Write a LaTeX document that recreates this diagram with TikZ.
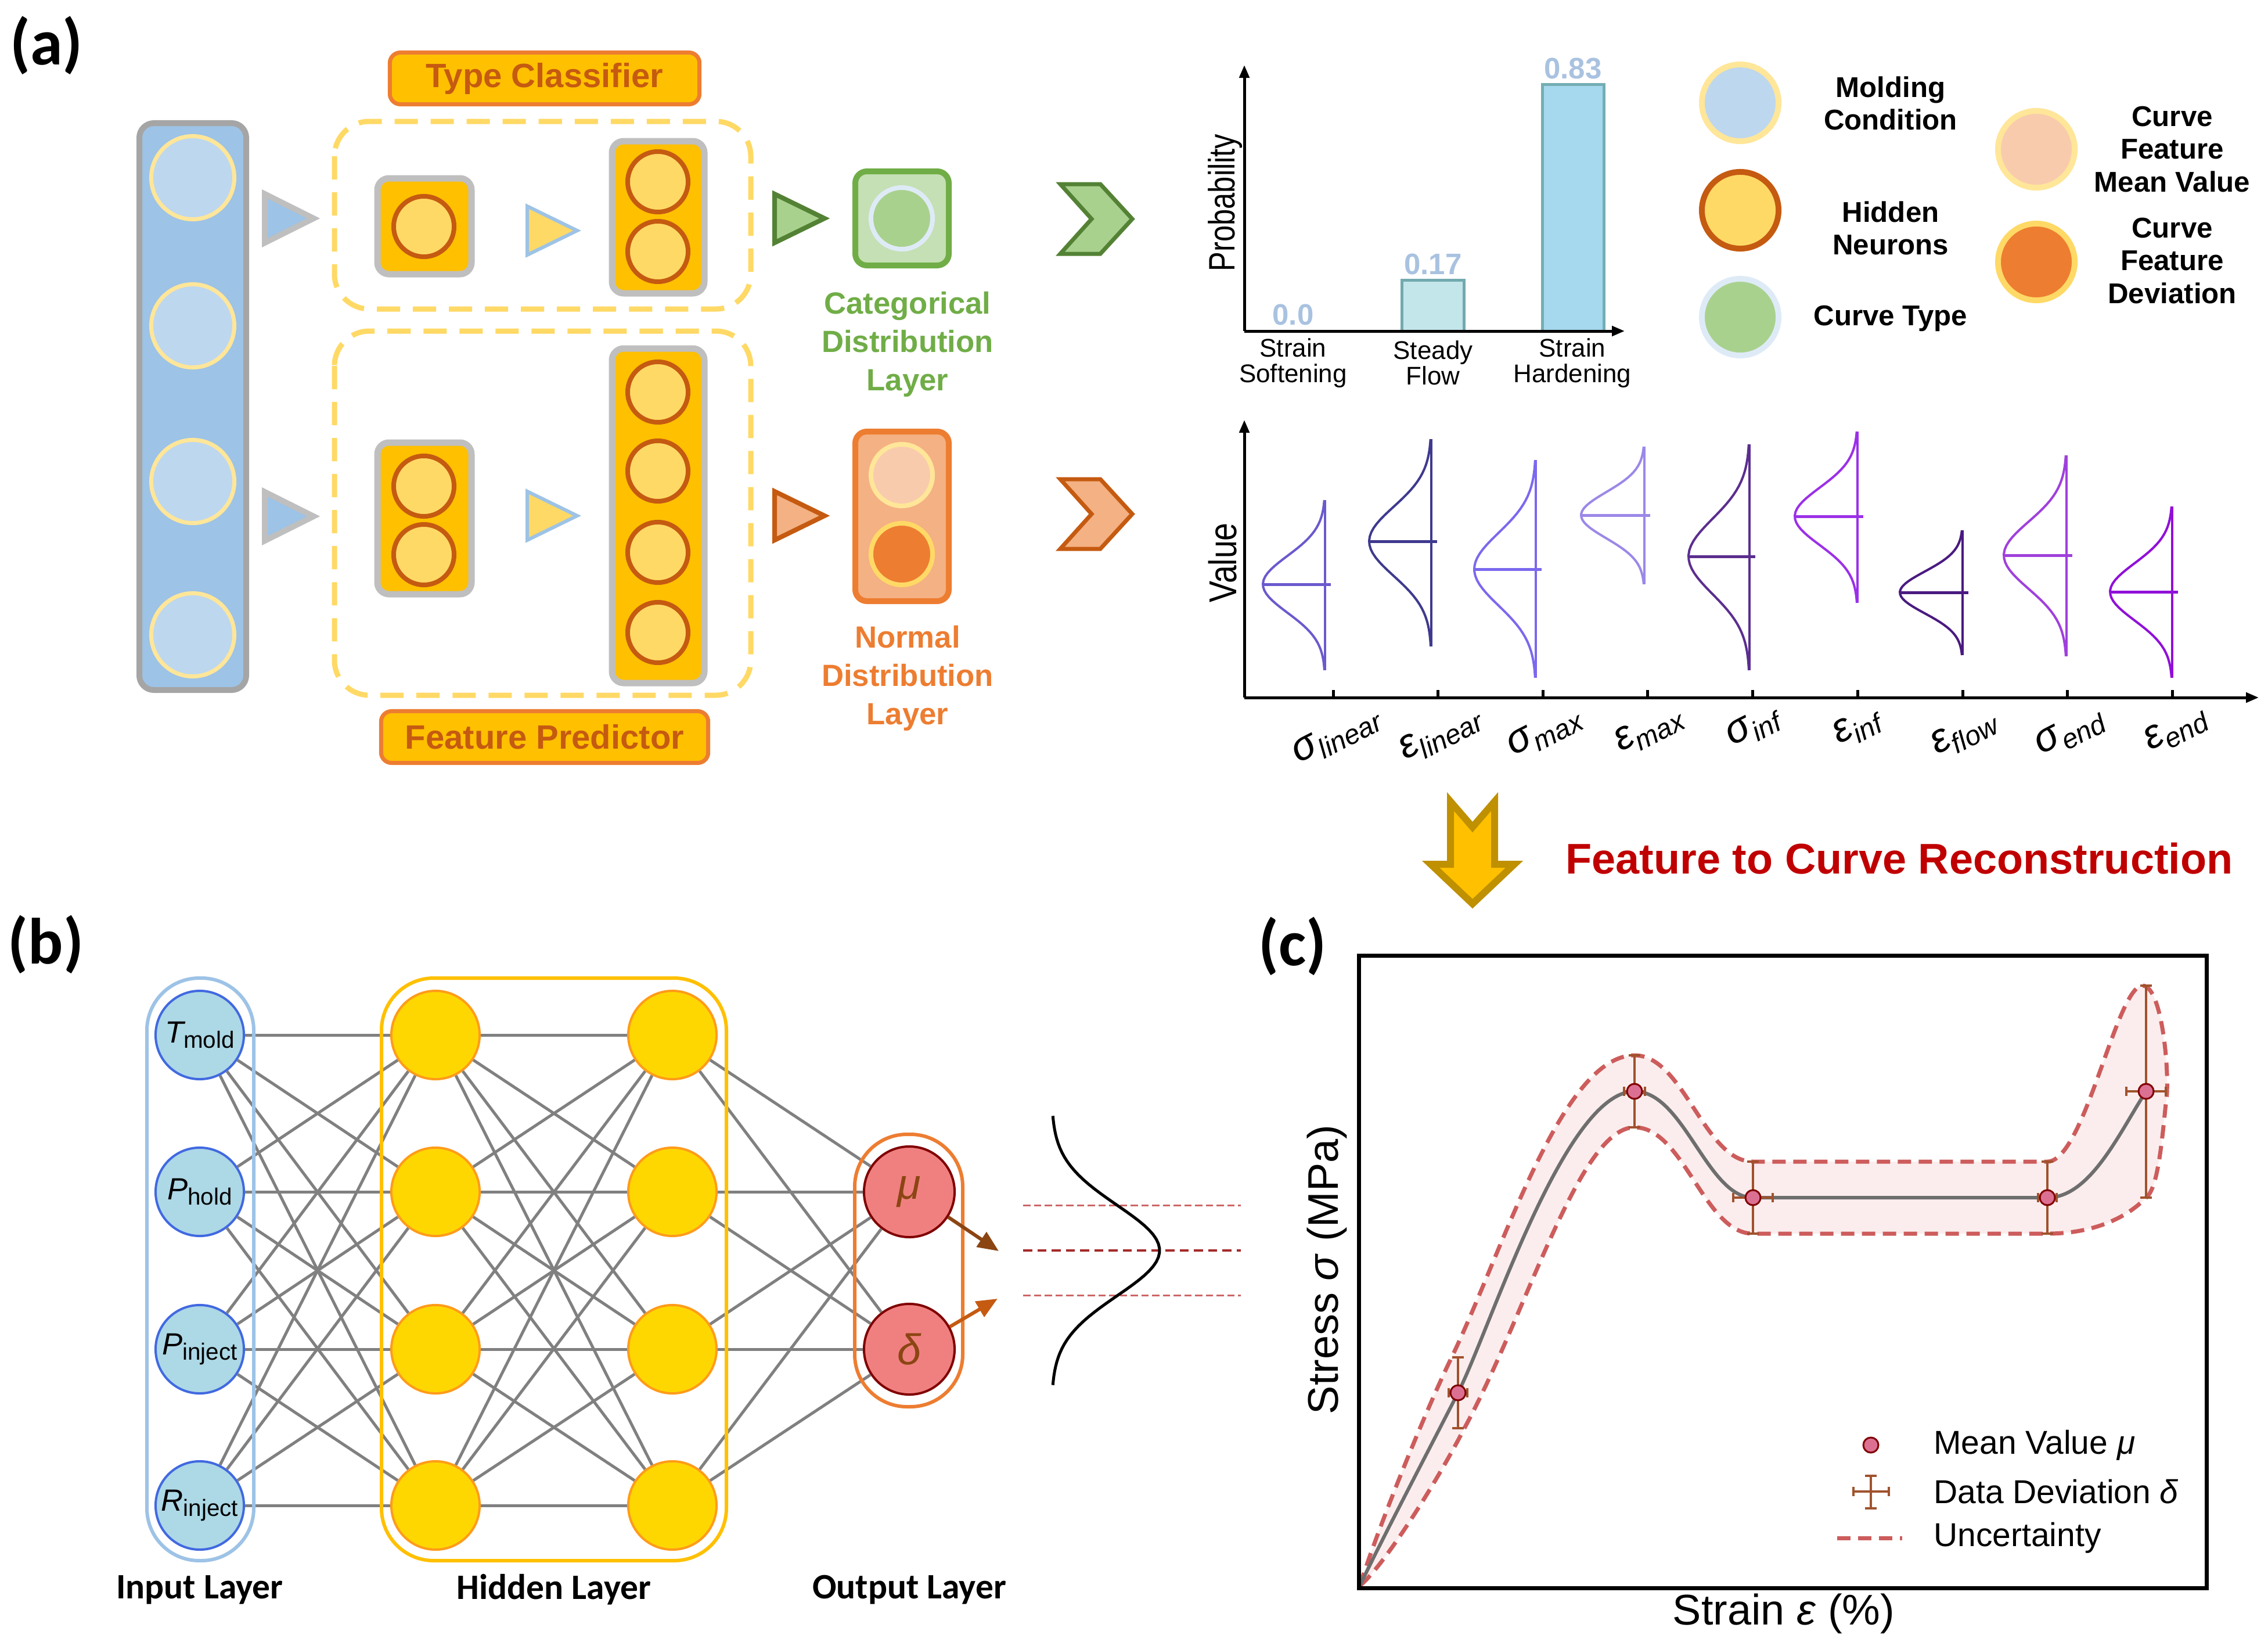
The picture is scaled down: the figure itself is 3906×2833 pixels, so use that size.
\documentclass[tikz,border=0pt]{standalone}
\usepackage{fontspec}
\setmainfont{Liberation Sans}
\newfontfamily\calibri{Carlito}
\usetikzlibrary{arrows.meta}

\definecolor{colblue}{HTML}{9DC3E6}
\definecolor{cirblue}{HTML}{BDD7EE}
\definecolor{paleyel}{HTML}{FFE699}
\definecolor{colgray}{HTML}{A5A5A5}
\definecolor{trigray}{HTML}{BFBFBF}
\definecolor{gold}{HTML}{FFC000}
\definecolor{neuyel}{HTML}{FFD966}
\definecolor{rust}{HTML}{C55A11}
\definecolor{orng}{HTML}{ED7D31}
\definecolor{grnbox}{HTML}{C5E0B4}
\definecolor{grncir}{HTML}{A9D18E}
\definecolor{grnline}{HTML}{70AD47}
\definecolor{grndark}{HTML}{548235}
\definecolor{peach}{HTML}{F4B183}
\definecolor{peachlt}{HTML}{F8CBAD}
\definecolor{iceblue}{HTML}{DEEBF7}
\definecolor{barval}{HTML}{A9C2E0}
\definecolor{barA}{HTML}{C3E6EB}
\definecolor{barAline}{HTML}{72AAAE}
\definecolor{barB}{HTML}{A6D8EE}
\definecolor{barBline}{HTML}{74AEB3}
\definecolor{dA}{HTML}{6A5ACD}
\definecolor{dB}{HTML}{3F3A8E}
\definecolor{dC}{HTML}{7B68EE}
\definecolor{dD}{HTML}{9C88E8}
\definecolor{dE}{HTML}{5B2E8F}
\definecolor{dF}{HTML}{9B30E8}
\definecolor{dG}{HTML}{4A1A80}
\definecolor{dH}{HTML}{A040DC}
\definecolor{dI}{HTML}{9010D8}
\definecolor{nnblue}{HTML}{ADD8E6}
\definecolor{nnline}{HTML}{4169E1}
\definecolor{nngold}{HTML}{FFD700}
\definecolor{nnorange}{HTML}{FF9B1A}
\definecolor{nncoral}{HTML}{F08080}
\definecolor{nnmaroon}{HTML}{800000}
\definecolor{nnbrown}{HTML}{8B4513}
\definecolor{edgegray}{HTML}{808080}
\definecolor{titlered}{HTML}{C00000}
\definecolor{bandfill}{HTML}{FBEDED}
\definecolor{bandline}{HTML}{CD5C5C}
\definecolor{curvegray}{HTML}{6E6E6E}
\definecolor{errbar}{HTML}{A0522D}
\definecolor{mkfill}{HTML}{DB7093}
\definecolor{gaussred}{HTML}{A52A2A}
\definecolor{gausslt}{HTML}{CD6666}
\definecolor{arrowgold}{HTML}{BF9000}

\newcommand{\lowsub}[1]{\raisebox{-0.2em}{\fontsize{13.5}{13.5}\selectfont #1}}
\newcommand{\nnlab}[2]{{\itshape #1}\raisebox{-0.35ex}{\fontsize{11.5}{11.5}\selectfont #2}}

\tikzset{
  panellbl/.style={font=\calibri\bfseries\fontsize{32}{36}\selectfont},
  layerlbl/.style={font=\calibri\bfseries\fontsize{17.5}{20}\selectfont},
  incirc/.style={line width=0.07cm, draw=paleyel, fill=cirblue},
  neuron/.style={line width=0.08cm, draw=rust, fill=neuyel},
  unitbox/.style={line width=0.11cm, draw=trigray, fill=gold, rounded corners=0.2cm},
  dashbox/.style={line width=0.09cm, draw=neuyel, dash pattern=on 0.4cm off 0.22cm, rounded corners=0.6cm},
  tagbox/.style={draw=orng, fill=gold, line width=0.07cm, rounded corners=0.18cm, text=rust,
    font=\bfseries\fontsize{16.5}{18}\selectfont, minimum height=0.89cm},
  laytext/.style={align=center, font=\bfseries\fontsize{15}{18.8}\selectfont},
  legtext/.style={align=center, font=\bfseries\fontsize{14}{16}\selectfont},
  legcirc/.style={line width=0.1cm},
  axis/.style={line width=0.05cm, -{Triangle[length=0.22cm,width=0.17cm]}},
  catlbl/.style={align=center, font=\fontsize{12.5}{12.5}\selectfont},
  barlbl/.style={text=barval, font=\bfseries\fontsize{14.5}{15}\selectfont},
  ticklbl/.style={rotate=27, inner sep=0pt, font=\itshape\fontsize{20}{20}\selectfont},
  inp/.style={circle, draw=nnline, fill=nnblue, line width=0.04cm, minimum size=1.52cm, inner sep=0pt,
    font=\fontsize{15}{15}\selectfont},
  hid/.style={circle, draw=nnorange, fill=nngold, line width=0.04cm, minimum size=1.52cm, inner sep=0pt},
  outn/.style={circle, draw=nnmaroon, fill=nncoral, line width=0.04cm, minimum size=1.56cm, inner sep=0pt,
    text=nnbrown, font=\itshape\fontsize{21}{21}\selectfont},
  edge/.style={draw=edgegray, line width=0.05cm},
  band/.style={line width=0.07cm, draw=bandline, dash pattern=on 0.23cm off 0.13cm},
  errb/.style={draw=errbar, line width=0.045cm},
  meanmark/.style={fill=mkfill, draw=nnmaroon, line width=0.03cm},
  plotlbl/.style={font=\fontsize{21}{21}\selectfont},
  keytext/.style={anchor=west, font=\fontsize{16.2}{17}\selectfont}
}

\begin{document}
\begin{tikzpicture}[x=0.01cm,y=-0.01cm]
\useasboundingbox (0,0) rectangle (3906,2833);

% (a) network sketch
\node[panellbl] (lbla) at (80,78) {(a)};
\draw[line width=0.1cm, draw=colgray, fill=colblue, rounded corners=0.25cm] (240,212) rectangle (424,1188);
\foreach \y in {306,561,829,1093}
  \draw[incirc] (332,\y) circle[radius=0.715cm];
\draw[dashbox] (576,209) rectangle (1293,532);
\draw[dashbox] (576,570) rectangle (1293,1197);
\foreach \y in {376,889}
  \draw[line width=0.1cm, draw=trigray, fill=colblue] (456,\y-42) -- (540,\y) -- (456,\y+42) -- cycle;
\foreach \y in {397,888}
  \draw[line width=0.06cm, draw=colblue, fill=neuyel] (908,\y-42) -- (994,\y) -- (908,\y+42) -- cycle;
\draw[unitbox] (650,307) rectangle (812,472);
\draw[neuron] (730,390) circle[radius=0.52cm];
\draw[unitbox] (1054,243) rectangle (1213,505);
\foreach \y in {313,433}
  \draw[neuron] (1133,\y) circle[radius=0.52cm];
\draw[unitbox] (650,762) rectangle (812,1023);
\foreach \y in {837,955}
  \draw[neuron] (730,\y) circle[radius=0.52cm];
\draw[unitbox] (1054,600) rectangle (1213,1176);
\foreach \y in {675,811,951,1089}
  \draw[neuron] (1133,\y) circle[radius=0.52cm];
\node[tagbox, minimum width=5.33cm] (typecls) at (938,135) {Type Classifier};
\node[tagbox, minimum width=5.63cm] (featpred) at (938,1269) {Feature Predictor};

\draw[line width=0.08cm, draw=grndark, fill=grncir] (1334,334) -- (1420,376) -- (1334,418) -- cycle;
\draw[line width=0.08cm, draw=rust, fill=peach] (1334,846) -- (1420,888) -- (1334,930) -- cycle;
\draw[line width=0.1cm, draw=grnline, fill=grnbox, rounded corners=0.2cm] (1473,295) rectangle (1634,457);
\draw[line width=0.08cm, draw=iceblue, fill=grncir] (1553,376) circle[radius=0.53cm];
\draw[line width=0.1cm, draw=orng, fill=peach, rounded corners=0.2cm] (1473,743) rectangle (1634,1035);
\draw[line width=0.08cm, draw=paleyel, fill=peachlt] (1553,818) circle[radius=0.53cm];
\draw[line width=0.08cm, draw=neuyel, fill=orng] (1553,954) circle[radius=0.53cm];
\node[laytext, text=grnline] (catlay) at (1563,593) {Categorical\\Distribution\\Layer};
\node[laytext, text=orng] (normlay) at (1563,1168) {Normal\\Distribution\\Layer};

\draw[line width=0.07cm, draw=grndark, fill=grncir] (1826,317) -- (1895,317) -- (1950,377) -- (1895,437) -- (1826,437) -- (1880,377) -- cycle;
\draw[line width=0.07cm, draw=rust, fill=peach] (1826,825) -- (1895,825) -- (1950,885) -- (1895,945) -- (1826,945) -- (1880,885) -- cycle;

% probability bars
\draw[line width=0.05cm, draw=barAline, fill=barA] (2414,482) rectangle (2521,570);
\draw[line width=0.05cm, draw=barBline, fill=barB] (2656,145) rectangle (2762,570);
\draw[axis] (2143,570) -- (2143,112);
\draw[axis] (2143,570) -- (2798,570);
\node[rotate=90, font=\fontsize{18}{18}\selectfont] (prob) at (2110,349) {\scalebox{0.8}[1]{Probability}};
\node[barlbl] (vsoft) at (2227,542) {0.0};
\node[barlbl] (vsteady) at (2468,455) {0.17};
\node[barlbl] (vhard) at (2709,118) {0.83};
\node[catlbl] (csoft) at (2227,625) {Strain\\Softening};
\node[catlbl] (csteady) at (2468,625) {Steady\\Flow};
\node[catlbl] (chard) at (2708,625) {Strain\\Hardening};

% legend
\draw[legcirc, draw=paleyel, fill=cirblue] (2997,177) circle[radius=0.66cm];
\draw[legcirc, draw=rust, fill=neuyel] (2997,362) circle[radius=0.66cm];
\draw[legcirc, draw=iceblue, fill=grncir] (2997,546) circle[radius=0.66cm];
\draw[legcirc, draw=paleyel, fill=peachlt] (3507,257) circle[radius=0.66cm];
\draw[legcirc, draw=neuyel, fill=orng] (3507,451) circle[radius=0.66cm];
\node[legtext] (kmold) at (3256,178) {Molding\\Condition};
\node[legtext] (khid) at (3256,393) {Hidden\\Neurons};
\node[legtext] (ktype) at (3256,548) {Curve Type};
\node[legtext] (kmean) at (3741,257) {Curve\\Feature\\Mean Value};
\node[legtext] (kdev) at (3741,449) {Curve\\Feature\\Deviation};

% feature distributions
\draw[axis] (2143,1201) -- (2143,723);
\draw[axis] (2143,1201) -- (3890,1201);
\node[rotate=90, font=\fontsize{19}{19}\selectfont] (val) at (2106,969) {\scalebox{0.83}[1]{Value}};
\foreach \dx in {2296,2476,2657,2837,3018,3199,3380,3560,3741}
  \draw[line width=0.05cm] (\dx,1201) -- (\dx,1188);
\foreach \dx/\dm/\da/\dt/\db/\dc in {2282/1006/107/861/1154/dA, 2465/932/107/756/1113/dB,
    2645/980/106/792/1167/dC, 2832/887/109/769/1006/dD, 3013/958/105/765/1154/dE,
    3199/889/108/743/1038/dF, 3380/1020/108/913/1128/dG, 3559/956/108/784/1130/dH,
    3741/1019/107/872/1167/dI} {
  \pgfmathsetmacro\ds{(\db-\dt)/6}
  \pgfmathsetmacro\ua{(\dt-\dm)/\ds}
  \pgfmathsetmacro\ub{(\db-\dm)/\ds}
  \draw[\dc, line width=0.04cm] plot[domain=\ua:\ub, samples=50] ({\dx-\da*exp(-\x*\x/2)}, {\dm+\ds*\x});
  \draw[\dc, line width=0.04cm] (\dx,\dt) -- (\dx,\db);
  \draw[\dc, line width=0.05cm] ({\dx-\da},\dm) -- ({\dx+10},\dm);
}
\foreach \lx/\ly/\lg/\ls [count=\k] in {2302/1268/σ/linear, 2481/1265/ε/linear, 2660/1261/σ/max,
    2840/1257/ε/max, 3019/1253/σ/inf, 3198/1253/ε/inf, 3383/1263/ε/flow, 3565/1262/σ/end, 3747/1257/ε/end}
  \node[ticklbl] (tick\k) at (\lx,\ly) {\lg\lowsub{\ls}};

\draw[line width=0.12cm, draw=arrowgold, fill=gold] (2498,1380) -- (2536,1424) -- (2574,1380) -- (2574,1488)
  -- (2608,1488) -- (2536,1556) -- (2464,1488) -- (2498,1488) -- cycle;
\node[text=titlered, font=\bfseries\fontsize{21}{21}\selectfont] (recon) at (3271,1478) {Feature to Curve Reconstruction};

% (b) probabilistic network
\node[panellbl] (lblb) at (79,1626) {(b)};
\node[inp] (in1) at (344,1782) {\nnlab{T}{mold}};
\node[inp] (in2) at (344,2052) {\nnlab{P}{hold}};
\node[inp] (in3) at (344,2323) {\nnlab{P}{inject}};
\node[inp] (in4) at (344,2592) {\nnlab{R}{inject}};
\foreach \j/\y in {1/1782,2/2052,3/2323,4/2592} {
  \node[hid] (ha\j) at (750,\y) {};
  \node[hid] (hb\j) at (1158,\y) {};
}
\node[outn] (o1) at (1566,2052) {μ};
\node[outn] (o2) at (1566,2323) {δ};
\foreach \i in {1,...,4}
  \foreach \j in {1,...,4} {
    \draw[edge] (in\i) -- (ha\j);
    \draw[edge] (ha\i) -- (hb\j);
  }
\foreach \i in {1,...,4}
  \foreach \j in {1,2}
    \draw[edge] (hb\i) -- (o\j);
\draw[line width=0.06cm, draw=colblue, rounded corners=0.9cm] (253,1684) rectangle (437,2687);
\draw[line width=0.06cm, draw=gold, rounded corners=0.9cm] (657,1684) rectangle (1251,2687);
\draw[line width=0.06cm, draw=orng, rounded corners=0.9cm] (1472,1953) rectangle (1658,2422);
\coordinate (muhead) at (1720,2154);
\coordinate (sdhead) at (1718,2236);
\draw[line width=0.06cm, nnbrown, -{Triangle[length=0.36cm,width=0.3cm]}] (o1.-33) -- (muhead);
\draw[line width=0.06cm, rust, -{Triangle[length=0.36cm,width=0.3cm]}] (o2.29) -- (sdhead);
\draw[line width=0.03cm, gausslt, dash pattern=on 0.125cm off 0.06cm] (1762,2075) -- (2137,2075);
\draw[line width=0.03cm, gausslt, dash pattern=on 0.125cm off 0.06cm] (1762,2230) -- (2137,2230);
\draw[line width=0.04cm, gaussred, dash pattern=on 0.155cm off 0.09cm] (1762,2153) -- (2137,2153);
\draw[line width=0.05cm] plot[domain=-2.97:2.97, samples=60] ({1811+186*exp(-\x*\x/2)}, {2153+78*\x});
\node[layerlbl] (inlay) at (344,2737) {Input Layer};
\node[layerlbl] (hidlay) at (954,2737) {Hidden Layer};
\node[layerlbl] (outlay) at (1566,2737) {Output Layer};

% (c) reconstructed curve
\node[panellbl] (lblc) at (2226,1629) {(c)};
\path[fill=bandfill] (2342,2730) .. controls (2370,2640) and (2450,2440) .. (2500,2337)
  .. controls (2590,2150) and (2690,1817) .. (2815,1817) .. controls (2900,1817) and (2935,2000) .. (3019,2000)
  -- (3526,2000) .. controls (3590,2000) and (3645,1697) .. (3690,1697)
  .. controls (3725,1697) and (3738,1860) .. (3730,1900) .. controls (3722,1980) and (3715,2045) .. (3697,2061)
  .. controls (3660,2100) and (3600,2124) .. (3526,2124) -- (3019,2124)
  .. controls (2935,2124) and (2900,1941) .. (2815,1941) .. controls (2720,1941) and (2630,2260) .. (2522,2459)
  .. controls (2470,2560) and (2380,2700) .. (2342,2730) -- cycle;
\draw[band] (2342,2730) .. controls (2370,2640) and (2450,2440) .. (2500,2337)
  .. controls (2590,2150) and (2690,1817) .. (2815,1817) .. controls (2900,1817) and (2935,2000) .. (3019,2000)
  -- (3526,2000) .. controls (3590,2000) and (3645,1697) .. (3690,1697)
  .. controls (3725,1697) and (3738,1860) .. (3730,1900) .. controls (3722,1980) and (3715,2045) .. (3697,2061)
  .. controls (3660,2100) and (3600,2124) .. (3526,2124) -- (3019,2124)
  .. controls (2935,2124) and (2900,1941) .. (2815,1941) .. controls (2720,1941) and (2630,2260) .. (2522,2459)
  .. controls (2470,2560) and (2380,2700) .. (2342,2730);
\draw[line width=0.06cm, curvegray] (2342,2730) .. controls (2380,2650) and (2461,2496) .. (2511,2398)
  .. controls (2567,2287) and (2695,1879) .. (2815,1879) .. controls (2900,1879) and (2940,2062) .. (3019,2062)
  -- (3526,2062) .. controls (3600,2062) and (3650,1950) .. (3696,1879);
\foreach \px/\py/\ex/\ea/\eb in {2511/2398/16/2337/2459, 2815/1879/18/1817/1941, 3019/2062/34/2000/2124,
    3526/2062/16/2000/2124, 3696/1879/34/1697/2062} {
  \draw[errb] (\px,\ea) -- (\px,\eb);
  \draw[errb] (\px-10,\ea) -- (\px+10,\ea);
  \draw[errb] (\px-10,\eb) -- (\px+10,\eb);
  \draw[errb] (\px-\ex,\py) -- (\px+\ex,\py);
  \draw[errb] (\px-\ex,\py-8) -- (\px-\ex,\py+8);
  \draw[errb] (\px+\ex,\py-8) -- (\px+\ex,\py+8);
  \draw[meanmark] (\px,\py) circle[radius=0.13cm];
}
\draw[line width=0.07cm] (2340,1645) rectangle (3800,2734);
\node[plotlbl, rotate=90] (ylab) at (2285,2186) {Stress \textit{σ} (MPa)};
\node[plotlbl] (xlab) at (3072,2778) {Strain \textit{ε} (\%)};
\draw[meanmark] (3222,2488) circle[radius=0.13cm];
\draw[errb] (3222,2541) -- (3222,2597);
\draw[errb] (3192,2568) -- (3253,2568);
\draw[errb] (3212,2541) -- (3232,2541);
\draw[errb] (3212,2597) -- (3232,2597);
\draw[errb] (3192,2560) -- (3192,2576);
\draw[errb] (3253,2560) -- (3253,2576);
\draw[band] (3164,2648) -- (3276,2648);
\node[keytext] (kmu) at (3318,2488) {Mean Value \textit{μ}};
\node[keytext] (kdelta) at (3318,2568) {Data Deviation \textit{δ}};
\node[keytext] (kunc) at (3318,2648) {Uncertainty};
\end{tikzpicture}
\end{document}
